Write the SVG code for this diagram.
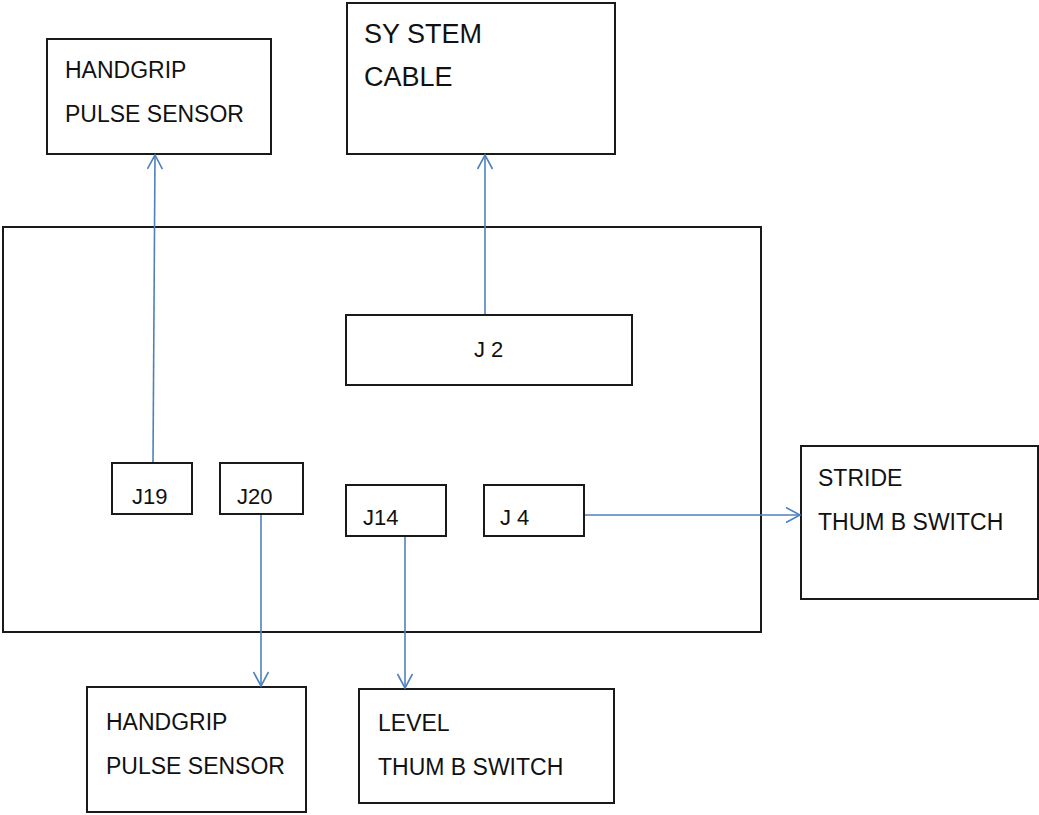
<svg xmlns="http://www.w3.org/2000/svg" width="1039" height="815" viewBox="0 0 1039 815">
  <style>
    .box { fill: #ffffff; stroke: #1a1a1a; stroke-width: 2; }
    .lbl { font-family: "Liberation Sans", Arial, sans-serif; font-size: 23px; fill: #111111; }
    .jlbl { font-family: "Liberation Sans", Arial, sans-serif; font-size: 22px; fill: #111111; }
    .lbl-arial { font-family: "Liberation Sans", Arial, sans-serif; font-size: 27px; fill: #111111; }
    .wire { fill: none; stroke: #4f81bd; stroke-width: 1.6; marker-end: url(#open-arrow); }
  </style>
  <defs>
    <marker id="open-arrow" markerUnits="userSpaceOnUse" markerWidth="20" markerHeight="20" refX="15" refY="8" orient="auto">
      <path d="M1,0.5 L15,8 L1,15.5" fill="none" stroke="#4f81bd" stroke-width="1.6"/>
    </marker>
  </defs>

  <rect width="1039" height="815" fill="#ffffff"/>

  <!-- main controller board -->
  <g id="board">
    <rect class="box" x="3" y="227" width="758" height="405"/>
  </g>

  <!-- connectors on the board -->
  <g id="j2">
    <rect class="box" x="346" y="315" width="286" height="70"/>
    <text class="jlbl" x="474" y="357">J 2</text>
  </g>
  <g id="j19">
    <rect class="box" x="112" y="463" width="80" height="51"/>
    <text class="jlbl" x="132" y="504">J19</text>
  </g>
  <g id="j20">
    <rect class="box" x="220" y="463" width="83" height="51"/>
    <text class="jlbl" x="237" y="504">J20</text>
  </g>
  <g id="j14">
    <rect class="box" x="346" y="485" width="100" height="51"/>
    <text class="jlbl" x="363" y="525">J14</text>
  </g>
  <g id="j4">
    <rect class="box" x="484" y="485" width="100" height="51"/>
    <text class="jlbl" x="500" y="525">J 4</text>
  </g>

  <!-- external devices -->
  <g id="handgrip-top">
    <rect class="box" x="47" y="39" width="224" height="115"/>
    <text class="lbl" x="65" y="78">HANDGRIP</text>
    <text class="lbl" x="65" y="122">PULSE SENSOR</text>
  </g>
  <g id="system-cable">
    <rect class="box" x="347" y="3" width="268" height="151"/>
    <text class="lbl-arial" x="364" y="43">SY STEM</text>
    <text class="lbl-arial" x="364" y="86">CABLE</text>
  </g>
  <g id="stride-switch">
    <rect class="box" x="801" y="446" width="237" height="153"/>
    <text class="lbl" x="818" y="486">STRIDE</text>
    <text class="lbl" x="818" y="530">THUM B SWITCH</text>
  </g>
  <g id="handgrip-bottom">
    <rect class="box" x="87" y="687" width="219" height="125"/>
    <text class="lbl" x="106" y="730">HANDGRIP</text>
    <text class="lbl" x="106" y="774">PULSE SENSOR</text>
  </g>
  <g id="level-switch">
    <rect class="box" x="359" y="689" width="255" height="114"/>
    <text class="lbl" x="378" y="731">LEVEL</text>
    <text class="lbl" x="378" y="775">THUM B SWITCH</text>
  </g>

  <!-- wiring -->
  <g id="connectors">
    <line class="wire" x1="153" y1="462" x2="155" y2="155"/>
    <line class="wire" x1="485" y1="314" x2="485" y2="155"/>
    <line class="wire" x1="261" y1="515" x2="261" y2="686"/>
    <line class="wire" x1="405" y1="537" x2="405" y2="688"/>
    <line class="wire" x1="585" y1="515" x2="800" y2="515"/>
  </g>
</svg>
